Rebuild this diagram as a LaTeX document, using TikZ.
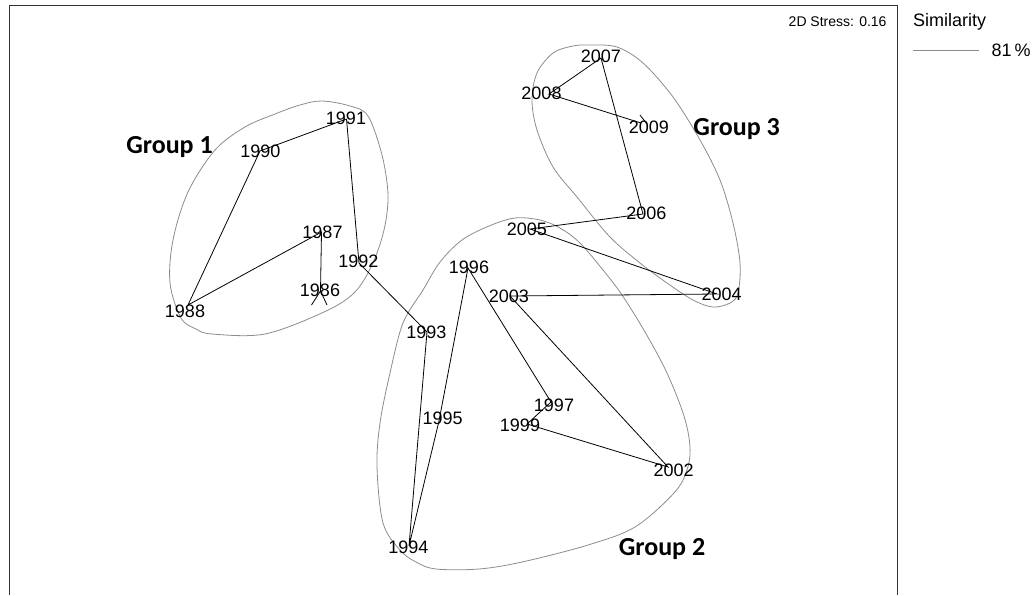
\documentclass[tikz,border=0pt]{standalone}
\usepackage{fontspec}
\setmainfont{Liberation Sans}
\newfontfamily\carlito{Carlito}
\begin{document}
\begin{tikzpicture}[x=1pt,y=-1pt,
  lbl/.style={font=\fontsize{18}{20}\selectfont, inner sep=0pt},
  grp/.style={font=\carlito\bfseries\fontsize{26}{30}\selectfont, inner sep=0pt, anchor=base},
  link/.style={black, line width=0.8pt},
  hull/.style={black!45, line width=0.8pt},
  frameline/.style={black!80, line width=1.2pt}]
\useasboundingbox (0,0) rectangle (1034,595);
% frame
\coordinate (f1) at (9.3,595);
\coordinate (f2) at (9.3,5.7);
\coordinate (f3) at (897.3,5.7);
\coordinate (f4) at (897.3,595);
\draw[frameline] (f1) -- (f2) -- (f3) -- (f4);
% stress and legend
\node[font=\fontsize{14}{16}\selectfont, inner sep=0pt, anchor=base east] (stress) at (886.7,26.7) {2D Stress: 0.16};
\node[font=\fontsize{18}{20}\selectfont, inner sep=0pt, anchor=base west] (sim) at (913,26) {Similarity};
\coordinate (la) at (913,50);
\coordinate (lb) at (979,50);
\draw[hull] (la) -- (lb);
\node[font=\fontsize{18}{20}\selectfont, inner sep=0pt, anchor=west] (pct) at (991.5,50) {81\,\%};
% hulls
\draw[hull] plot[smooth cycle, tension=0.55] coordinates {
 (322,101) (350,106) (368,116) (382,155) (388,195) (384,230) (372,265) (354,293)
 (324,312) (265,334) (212,334) (196,329) (181,318) (170,283) (173,240) (188,192)
 (215,150) (245,127) (275,114) (300,105)};
\draw[hull] plot[smooth cycle, tension=0.55] coordinates {
 (515,218) (540,220) (560,228) (580,243) (603,270) (622,295) (645,332) (667,373)
 (684,416) (690,447) (687,470) (674,493) (635,527) (588,545) (522,562) (479,569)
 (436,569) (416,562) (400,550) (383,523) (377,467) (380,423) (390,373) (403,323)
 (423,290) (440,262) (462,240) (489,226)};
\draw[hull] plot[smooth cycle, tension=0.55] coordinates {
 (590,45) (617,47) (643,63) (673,97) (700,140) (720,180) (733,223) (740,263)
 (738,293) (730,303) (713,307) (693,300) (667,283) (640,263) (610,237) (577,197)
 (553,167) (537,130) (532,100) (537,73) (553,53) (573,46)};
% points
\coordinate (p1986) at (320.5,291);
\coordinate (p1987) at (321.5,232);
\coordinate (p1988) at (188,305);
\coordinate (p1990) at (260,151);
\coordinate (p1991) at (346.5,119);
\coordinate (p1992) at (359,263);
\coordinate (p1993) at (427,332);
\coordinate (p1994) at (409,546);
\coordinate (p1995) at (439,421);
\coordinate (p1996) at (468,268);
\coordinate (p1997) at (551,402);
\coordinate (p1999) at (527,424);
\coordinate (p2002) at (668,467);
\coordinate (p2003) at (510,296);
\coordinate (p2004) at (717,294);
\coordinate (p2005) at (530,229);
\coordinate (p2006) at (643,214);
\coordinate (p2007) at (601,58);
\coordinate (p2008) at (549,94);
\coordinate (p2009) at (641,123);
\coordinate (t1) at (311.5,305);
\coordinate (t2) at (327,305);
\coordinate (t3a) at (640,115);
\coordinate (t3b) at (647,124);
% links
\draw[link] (p1991) -- (p1990) -- (p1988) -- (p1987) -- (p1986);
\draw[link] (p1991) -- (p1992) -- (p1993) -- (p1994) -- (p1995) -- (p1996) -- (p1997) -- (p1999) -- (p2002) -- (p2003) -- (p2004) -- (p2005) -- (p2006) -- (p2007) -- (p2008) -- (p2009);
\draw[link] (t1) -- (p1986) -- (t2);
\draw[link] (t3a) -- (t3b);
% labels
\node[lbl] (n1986) at (320,290) {1986};
\node[lbl] (n1987) at (322.5,232) {1987};
\node[lbl] (n1988) at (185,311.5) {1988};
\node[lbl] (n1990) at (260.3,151) {1990};
\node[lbl] (n1991) at (346,118.3) {1991};
\node[lbl] (n1992) at (358.3,261.7) {1992};
\node[lbl] (n1993) at (426.3,332.7) {1993};
\node[lbl] (n1994) at (408.3,547.3) {1994};
\node[lbl] (n1995) at (442.7,418.7) {1995};
\node[lbl] (n1996) at (469,267) {1996};
\node[lbl] (n1997) at (554,405) {1997};
\node[lbl] (n1999) at (520,425) {1999};
\node[lbl] (n2002) at (673.7,470.7) {2002};
\node[lbl] (n2003) at (508.8,296.7) {2003};
\node[lbl] (n2004) at (721.7,294.5) {2004};
\node[lbl] (n2005) at (526.8,229.7) {2005};
\node[lbl] (n2006) at (646.3,213.7) {2006};
\node[lbl] (n2007) at (600.8,56) {2007};
\node[lbl] (n2008) at (541.5,93.7) {2008};
\node[lbl] (n2009) at (648.8,127) {2009};
% group labels
\node[grp] (g1) at (169.5,153.3) {Group 1};
\node[grp] (g2) at (662,555) {Group 2};
\node[grp] (g3) at (736.7,135) {Group 3};
\end{tikzpicture}
\end{document}
